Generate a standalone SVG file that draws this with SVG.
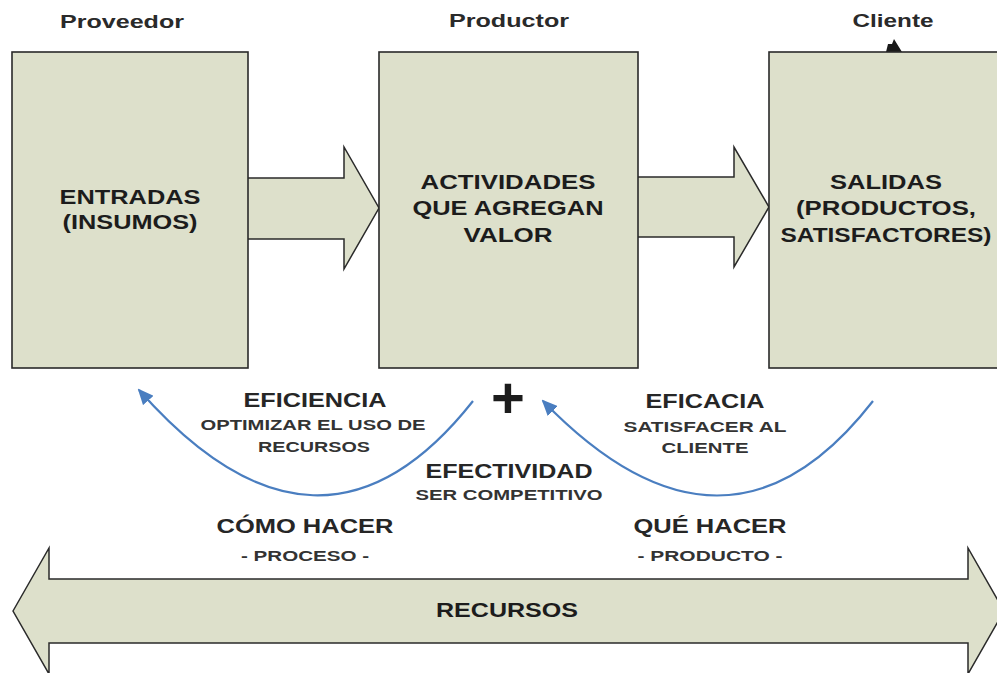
<svg xmlns="http://www.w3.org/2000/svg" width="997" height="673" viewBox="0 0 997 673">
  <style>
    .box { fill: #dde0cb; stroke: #2a2a2a; stroke-width: 1.6; }
    .shape { fill: #dde0cb; stroke: #2a2a2a; stroke-width: 1.5; stroke-linejoin: miter; }
    .t { font-family: "Liberation Sans", Arial, sans-serif; font-weight: bold; text-anchor: middle; fill: #1c1c1c; }
    .hdr { font-size: 19px; fill: #2a2a2a; }
    .big { font-size: 21px; }
    .mid { font-size: 19.5px; fill: #262626; }
    .small { font-size: 14.5px; fill: #333333; }
    .arc { fill: none; stroke: #4a7ec0; stroke-width: 2.2; }
  </style>
  <defs>
    <marker id="blueHead" viewBox="0 0 16 14" refX="14" refY="7" markerWidth="16" markerHeight="14" markerUnits="userSpaceOnUse" orient="auto">
      <path d="M0,0 L16,7 L0,14 z" fill="#4a7ec0"/>
    </marker>
  </defs>
  <rect width="997" height="673" fill="#ffffff"/>

  <!-- headers -->
  <g id="headers">
    <text class="t hdr" x="122" y="28" textLength="124" lengthAdjust="spacingAndGlyphs">Proveedor</text>
    <text class="t hdr" x="509" y="27" textLength="120" lengthAdjust="spacingAndGlyphs">Productor</text>
    <text class="t hdr" x="893" y="27" textLength="81" lengthAdjust="spacingAndGlyphs">Cliente</text>
    <path d="M886,52 L888,44 L892,44 L894,39 L902,52 Z" fill="#1a1a1a"/>
  </g>

  <!-- connectors -->
  <g id="connectors">
    <path class="shape" d="M248,178 L344,178 L344,147 L379,208 L344,269 L344,239 L248,239"/>
    <path class="shape" d="M638,177 L734,177 L734,147 L769,207 L734,267 L734,237 L638,237"/>
    <path class="arc" d="M473,401 Q320,595 139,390" marker-end="url(#blueHead)"/>
    <path class="arc" d="M873,401 Q726,590 543,401" marker-end="url(#blueHead)"/>
  </g>

  <!-- nodes -->
  <g id="entradas">
    <rect class="box" x="12" y="52" width="236" height="316"/>
    <text class="t big" x="130" y="204" textLength="141" lengthAdjust="spacingAndGlyphs">ENTRADAS</text>
    <text class="t big" x="130" y="229" textLength="135" lengthAdjust="spacingAndGlyphs">(INSUMOS)</text>
  </g>
  <g id="actividades">
    <rect class="box" x="379" y="52" width="259" height="316"/>
    <text class="t big" x="508" y="189" textLength="175" lengthAdjust="spacingAndGlyphs">ACTIVIDADES</text>
    <text class="t big" x="508" y="215" textLength="191" lengthAdjust="spacingAndGlyphs">QUE AGREGAN</text>
    <text class="t big" x="508" y="242" textLength="89" lengthAdjust="spacingAndGlyphs">VALOR</text>
  </g>
  <g id="salidas">
    <rect class="box" x="769" y="52" width="240" height="316"/>
    <text class="t big" x="886" y="189" textLength="112" lengthAdjust="spacingAndGlyphs">SALIDAS</text>
    <text class="t big" x="886" y="215" textLength="180" lengthAdjust="spacingAndGlyphs">(PRODUCTOS,</text>
    <text class="t big" x="886" y="242" textLength="211" lengthAdjust="spacingAndGlyphs">SATISFACTORES)</text>
  </g>

  <g id="eficiencia">
    <text class="t mid" x="315" y="407" textLength="143" lengthAdjust="spacingAndGlyphs">EFICIENCIA</text>
    <text class="t small" x="313" y="430" textLength="225" lengthAdjust="spacingAndGlyphs">OPTIMIZAR EL USO DE</text>
    <text class="t small" x="314" y="452" textLength="112" lengthAdjust="spacingAndGlyphs">RECURSOS</text>
  </g>
  <g id="eficacia">
    <text class="t mid" x="705" y="408" textLength="119" lengthAdjust="spacingAndGlyphs">EFICACIA</text>
    <text class="t small" x="705" y="432" textLength="163" lengthAdjust="spacingAndGlyphs">SATISFACER AL</text>
    <text class="t small" x="705" y="453" textLength="87" lengthAdjust="spacingAndGlyphs">CLIENTE</text>
  </g>
  <g id="plus">
    <text class="t" x="508" y="418" font-size="58" fill="#111111">+</text>
  </g>
  <g id="efectividad">
    <text class="t mid" x="509" y="478" textLength="167" lengthAdjust="spacingAndGlyphs">EFECTIVIDAD</text>
    <text class="t small" x="509" y="500" textLength="187" lengthAdjust="spacingAndGlyphs">SER COMPETITIVO</text>
  </g>
  <g id="como">
    <text class="t mid" x="305" y="533" textLength="177" lengthAdjust="spacingAndGlyphs">CÓMO HACER</text>
    <text class="t small" x="305" y="561" textLength="128" lengthAdjust="spacingAndGlyphs">- PROCESO -</text>
  </g>
  <g id="que">
    <text class="t mid" x="710" y="533" textLength="153" lengthAdjust="spacingAndGlyphs">QUÉ HACER</text>
    <text class="t small" x="710" y="561" textLength="145" lengthAdjust="spacingAndGlyphs">- PRODUCTO -</text>
  </g>

  <g id="recursos">
    <path class="shape" d="M13,611 L49,548 L49,579 L968,579 L968,548 L1004,611 L968,674 L968,643 L49,643 L49,674 Z"/>
    <text class="t big" x="507" y="617" textLength="142" lengthAdjust="spacingAndGlyphs">RECURSOS</text>
  </g>
</svg>
